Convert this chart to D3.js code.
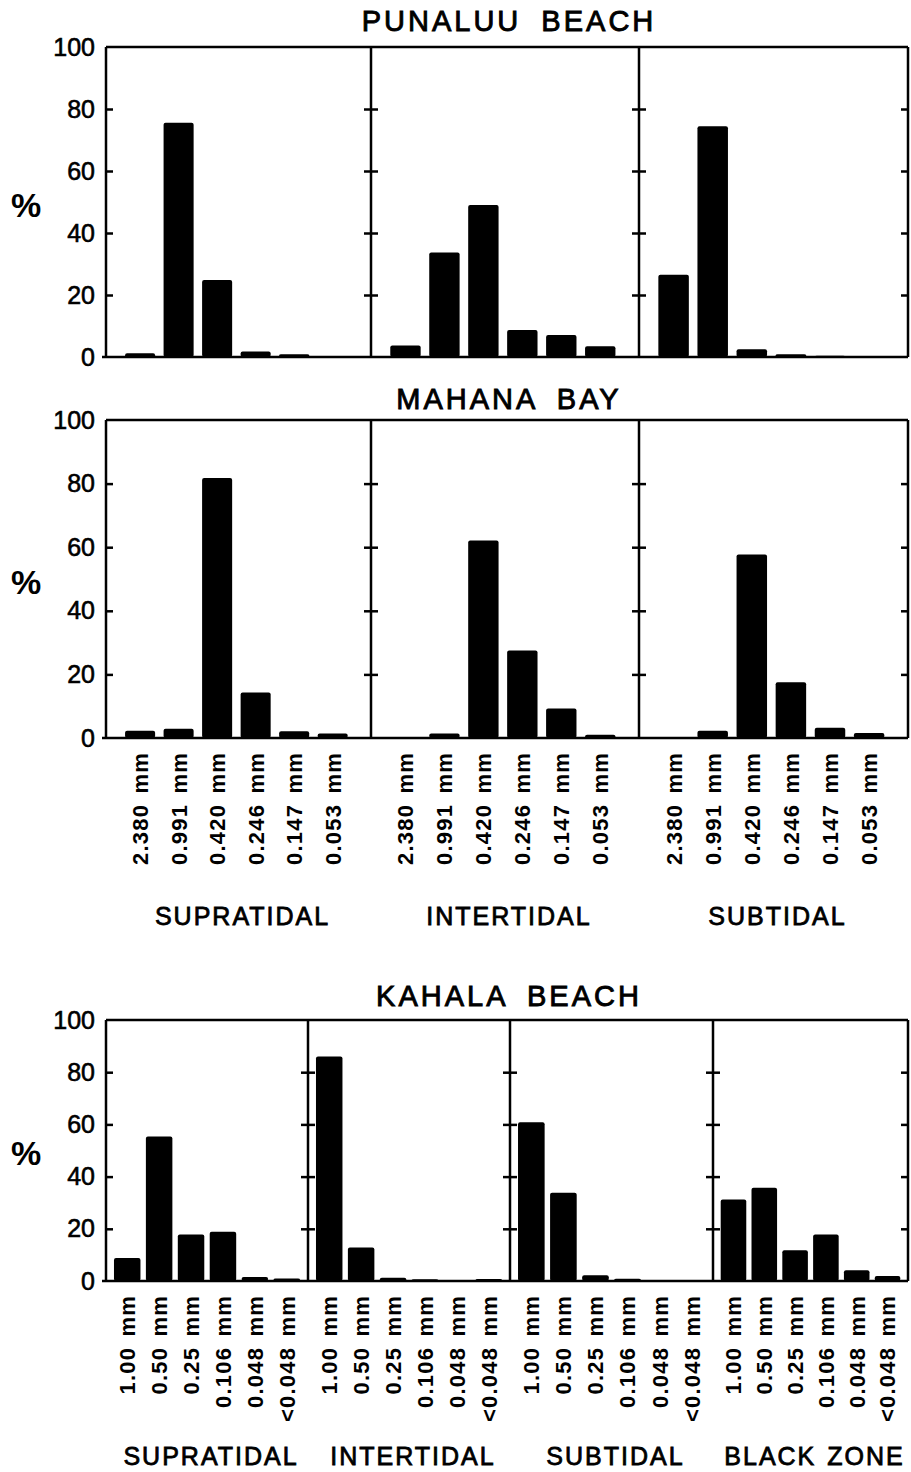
<!DOCTYPE html>
<html>
<head>
<meta charset="utf-8">
<script src="https://cdn.jsdelivr.net/npm/d3@7"></script>
<style>
  body { margin: 0; background: #fff; }
  svg { display: block; }
  text { font-family: "Liberation Sans", Arial, sans-serif; fill: #000; }
  .ylab text { stroke: #000; stroke-width: 0.6px; }
  .cat { font-size: 22px; font-weight: bold; letter-spacing: 1.2px; word-spacing: 3px; }
  .zone { font-size: 25px; letter-spacing: 2px; word-spacing: 2px; stroke: #000; stroke-width: 0.8px; }
  .title { font-size: 29px; letter-spacing: 3px; word-spacing: 9px; stroke: #000; stroke-width: 0.9px; }
  .pct { font-size: 34px; font-weight: bold; }
</style>
</head>
<body>
<script>
// ---------------- data ----------------
var sieveCats = ["2.380 mm", "0.991 mm", "0.420 mm", "0.246 mm", "0.147 mm", "0.053 mm"];
var kahalaCats = ["1.00 mm", "0.50 mm", "0.25 mm", "0.106 mm", "0.048 mm", "<0.048 mm"];
var zones3 = ["SUPRATIDAL", "INTERTIDAL", "SUBTIDAL"];
var zones4 = ["SUPRATIDAL", "INTERTIDAL", "SUBTIDAL", "BLACK ZONE"];
var yTicks = [0, 20, 40, 60, 80, 100];

var punaluuSupra = [1.2, 75.6, 24.8, 1.8, 0.9, 0];
var punaluuInter = [3.7, 33.7, 49.0, 8.7, 7.1, 3.5];
var punaluuSub   = [26.5, 74.4, 2.5, 0.9, 0.4, 0];

var mahanaSupra = [2.3, 2.9, 81.8, 14.3, 2.1, 1.4];
var mahanaInter = [0, 1.4, 62.1, 27.5, 9.3, 1.0];
var mahanaSub   = [0, 2.3, 57.7, 17.5, 3.2, 1.6];

var kahalaSupra = [8.8, 55.4, 17.8, 18.9, 1.5, 1.0];
var kahalaInter = [86.0, 12.8, 1.2, 0.7, 0, 0.8];
var kahalaSub   = [60.8, 33.8, 2.2, 0.9, 0.4, 0];
var kahalaBlack = [31.2, 35.7, 11.8, 17.8, 4.1, 1.9];

var W = 911, H = 1472;
var svg = d3.select("body").append("svg").attr("width", W).attr("height", H);

function drawChart(o) {
  var g = svg.append("g");
  var y = d3.scaleLinear().domain([0, 100]).range([o.bottom, o.top]);
  var edges = [o.left].concat(o.dividers, [o.right]);

  // title
  g.append("text").attr("class", "title")
    .attr("x", (o.left + o.right) / 2 + 2).attr("y", o.titleY)
    .attr("text-anchor", "middle").text(o.title);

  // % label
  g.append("text").attr("class", "pct")
    .attr("x", 26).attr("y", (o.top + o.bottom) / 2 + 6)
    .attr("text-anchor", "middle").attr("dominant-baseline", "middle").text("%");

  // left tick labels
  g.append("g").attr("class", "ylab")
    .attr("transform", "translate(" + o.left + ",0)")
    .call(d3.axisLeft(y).tickValues(yTicks).tickSize(0).tickPadding(11))
    .call(function(s) { s.select(".domain").remove(); s.selectAll("text").attr("font-size", 25).attr("font-family", null); });

  // inward ticks on left axis
  g.append("g").attr("transform", "translate(" + o.left + ",0)")
    .call(d3.axisRight(y).tickValues([20, 40, 60, 80]).tickSize(7).tickFormat(""))
    .call(function(s) { s.select(".domain").remove(); s.selectAll("line").attr("stroke-width", 2.5); });

  // divider ticks (crossing) and right border ticks
  o.dividers.forEach(function(dx) {
    g.append("g").attr("transform", "translate(" + (dx + 7) + ",0)")
      .call(d3.axisLeft(y).tickValues([20, 40, 60, 80]).tickSize(14).tickFormat(""))
      .call(function(s) { s.select(".domain").remove(); s.selectAll("line").attr("stroke-width", 2.5); });
  });
  g.append("g").attr("transform", "translate(" + o.right + ",0)")
    .call(d3.axisLeft(y).tickValues([20, 40, 60, 80]).tickSize(7).tickFormat(""))
    .call(function(s) { s.select(".domain").remove(); s.selectAll("line").attr("stroke-width", 2.5); });

  // panels
  o.series.forEach(function(vals, i) {
    var x = d3.scaleBand().domain(o.cats)
      .range([edges[i], edges[i + 1]])
      .paddingInner(o.padIn).paddingOuter(o.padOut).align(o.align);
    var p = g.append("g");
    p.selectAll("rect").data(vals).enter().append("rect")
      .attr("x", function(d, j) { return x(o.cats[j]); })
      .attr("width", x.bandwidth())
      .attr("y", function(d) { return y(d); })
      .attr("height", function(d) { return y(0) - y(d); })
      .attr("rx", 2)
      .attr("fill", "#000")
      .attr("display", function(d) { return d > 0 ? null : "none"; });

    if (o.showCats) {
      p.selectAll(".cat").data(o.cats).enter().append("text")
        .attr("class", "cat")
        .attr("transform", function(d) {
          return "translate(" + (x(d) + x.bandwidth() / 2) + "," + (o.bottom + 14) + ") rotate(-90)";
        })
        .attr("text-anchor", "end").attr("dy", "0.36em")
        .text(function(d) { return d; });
      g.append("text").attr("class", "zone")
        .attr("x", (edges[i] + edges[i + 1]) / 2 + 4).attr("y", o.zoneY)
        .attr("text-anchor", "middle").text(o.zones[i]);
    }
  });

  // frame
  var line = g.append("g").attr("stroke", "#000").attr("stroke-width", 2.5).attr("fill", "none");
  line.append("line").attr("x1", o.left).attr("x2", o.right).attr("y1", o.top).attr("y2", o.top);
  line.append("line").attr("x1", o.left - 4).attr("x2", o.right).attr("y1", o.bottom).attr("y2", o.bottom);
  edges.forEach(function(ex) {
    line.append("line").attr("x1", ex).attr("x2", ex).attr("y1", o.top).attr("y2", o.bottom);
  });
}

drawChart({
  title: "PUNALUU BEACH", titleY: 31, top: 47, bottom: 357, left: 106, right: 908,
  dividers: [371, 639], cats: sieveCats, zones: zones3,
  series: [punaluuSupra, punaluuInter, punaluuSub],
  padIn: 0.22, padOut: 0.55, align: 0.45, showCats: false
});

drawChart({
  title: "MAHANA BAY", titleY: 409, top: 420, bottom: 738, left: 106, right: 908,
  dividers: [371, 639], cats: sieveCats, zones: zones3,
  series: [mahanaSupra, mahanaInter, mahanaSub],
  padIn: 0.22, padOut: 0.55, align: 0.45, showCats: true, zoneY: 925
});

drawChart({
  title: "KAHALA BEACH", titleY: 1006, top: 1020, bottom: 1281, left: 106, right: 908,
  dividers: [308, 510, 713], cats: kahalaCats, zones: zones4,
  series: [kahalaSupra, kahalaInter, kahalaSub, kahalaBlack],
  padIn: 0.17, padOut: 0.25, align: 0.5, showCats: true, zoneY: 1465
});
</script>
</body>
</html>
